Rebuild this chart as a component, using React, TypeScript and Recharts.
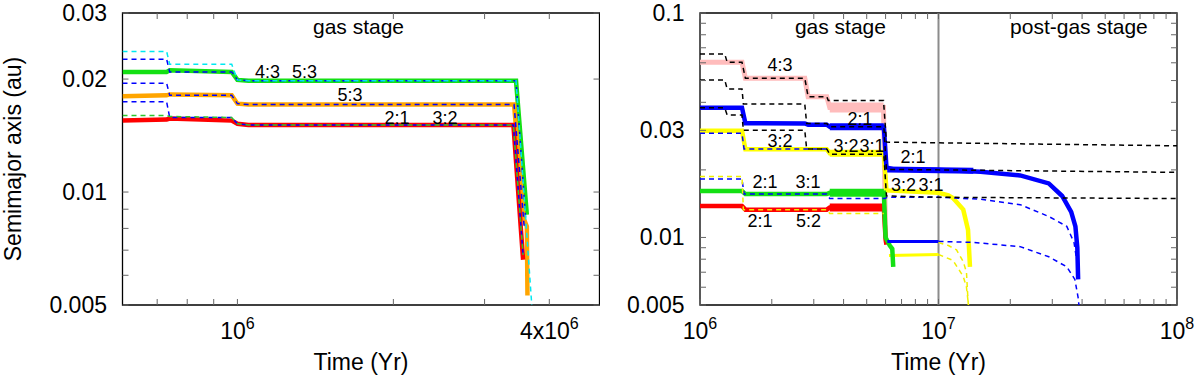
import React from "react";
import {
  LineChart,
  Line,
  XAxis,
  YAxis,
  ReferenceLine,
  ReferenceArea,
  ReferenceDot,
} from "recharts";

type Pt = [number, number];

const FONT = '"Liberation Sans", Arial, Helvetica, sans-serif';

// ---------- left panel (gas stage only) ----------
const leftXTicks = [7e5, 8e5, 9e5, 1e6, 2e6, 3e6, 4e6];
const leftXLabels: Record<string, string[]> = {
  "1000000": ["10", "6"],
  "4000000": ["4x10", "6"],
};
const leftYTicks = [0.005, 0.006, 0.007, 0.008, 0.009, 0.01, 0.02, 0.03];
const leftYLabels = ["0.005", "0.01", "0.02", "0.03"];

// solid (semimajor axis of each planet)
const leftGreen: Pt[] = [[6e5, 0.0209], [7.3e5, 0.0209], [7.4e5, 0.0211], [9.75e5, 0.0209], [1.0e6, 0.0199], [1.05e6, 0.0198], [3.45e6, 0.0198], [3.62e6, 0.0087]];
const leftOrange: Pt[] = [[6e5, 0.018], [7.3e5, 0.0181], [7.4e5, 0.0182], [9.75e5, 0.0181], [1.0e6, 0.0172], [1.05e6, 0.0171], [3.42e6, 0.0171], [3.57e6, 0.0085], [3.62e6, 0.0081], [3.63e6, 0.0053]];
const leftRed: Pt[] = [[6e5, 0.0155], [7.3e5, 0.0156], [7.4e5, 0.0157], [9.75e5, 0.0155], [1.0e6, 0.0152], [1.05e6, 0.0151], [3.41e6, 0.0151], [3.56e6, 0.0066]];
// dashed companions
const leftCyan: Pt[] = [[6e5, 0.0237], [7.3e5, 0.0237], [7.4e5, 0.0219], [9.75e5, 0.0219], [1.0e6, 0.0199], [1.05e6, 0.0198], [3.45e6, 0.0198], [3.7e6, 0.005]];
const leftBlue1: Pt[] = [[6e5, 0.0226], [7.3e5, 0.0226], [7.4e5, 0.0209], [9.75e5, 0.0209], [1.0e6, 0.0199], [1.05e6, 0.0198], [3.45e6, 0.0198], [3.6e6, 0.0085]];
const leftBlue2: Pt[] = [[6e5, 0.0195], [7.3e5, 0.0195], [7.4e5, 0.0181], [9.75e5, 0.0181], [1.0e6, 0.0172], [1.05e6, 0.0171], [3.42e6, 0.0171], [3.58e6, 0.008]];
const leftBlue3: Pt[] = [[6e5, 0.0174], [7.3e5, 0.0174], [7.4e5, 0.0158], [9.75e5, 0.0158], [1.0e6, 0.0152], [1.05e6, 0.0151], [3.41e6, 0.0151], [3.56e6, 0.0068]];
const leftGreenDash: Pt[] = [[6e5, 0.016], [7.3e5, 0.016], [7.4e5, 0.0159], [9.75e5, 0.0158], [1.0e6, 0.0152], [1.05e6, 0.0151], [3.41e6, 0.0151], [3.56e6, 0.0068]];

const leftNotes: [string, number, number][] = [
  ["gas stage", 1.713e6, 0.02645],
  ["4:3", 1.143e6, 0.02013],
  ["5:3", 1.347e6, 0.02013],
  ["5:3", 1.649e6, 0.01753],
  ["2:1", 2.032e6, 0.01518],
  ["3:2", 2.515e6, 0.01518],
];

// ---------- right panel (gas + post-gas) ----------
const rightXTicks = [
  1e6, 2e6, 3e6, 4e6, 5e6, 6e6, 7e6, 8e6, 9e6,
  1e7, 2e7, 3e7, 4e7, 5e7, 6e7, 7e7, 8e7, 9e7, 1e8,
];
const rightXLabels: Record<string, string[]> = {
  "1000000": ["10", "6"],
  "10000000": ["10", "7"],
  "100000000": ["10", "8"],
};
const rightYTicks = [
  0.005, 0.006, 0.007, 0.008, 0.009, 0.01, 0.02, 0.03, 0.04, 0.05, 0.06, 0.07, 0.08, 0.09, 0.1,
];
const rightYLabels = ["0.005", "0.01", "0.03", "0.1"];

const rightPink: Pt[] = [[1e6, 0.0603], [1.5e6, 0.0603], [1.55e6, 0.0512], [2.75e6, 0.0512], [2.84e6, 0.0424], [3.4e6, 0.0424], [3.5e6, 0.0379], [5.88e6, 0.0379], [6.0e6, 0.01]];
const rightPinkNoise: Pt[] = [[3.5e6, 0.0379], [5.88e6, 0.0379]];
const rightYellow: Pt[] = [[1e6, 0.0299], [1.5e6, 0.0299], [1.55e6, 0.0247], [3.4e6, 0.0247], [3.5e6, 0.0237], [5.9e6, 0.0237], [6.05e6, 0.0162], [1e7, 0.0158], [1.1e7, 0.0154], [1.15e7, 0.015], [1.27e7, 0.0133], [1.33e7, 0.0108], [1.355e7, 0.0074]];
const rightYellowNoise: Pt[] = [[3.5e6, 0.0237], [5.9e6, 0.0237]];
const rightRed: Pt[] = [[1e6, 0.0138], [1.5e6, 0.0138], [1.55e6, 0.0133], [3.4e6, 0.0133], [3.5e6, 0.0136], [5.9e6, 0.0136], [6.0e6, 0.0098], [6.05e6, 0.0093]];
const rightRedNoise: Pt[] = [[3.5e6, 0.0136], [5.9e6, 0.0136]];
const rightGreen: Pt[] = [[1e6, 0.0161], [1.5e6, 0.0161], [1.55e6, 0.0156], [3.4e6, 0.0156], [3.5e6, 0.0158], [5.9e6, 0.0158], [6.0e6, 0.01], [6.25e6, 0.0092], [6.4e6, 0.0089], [6.46e6, 0.0074]];
const rightGreenNoise: Pt[] = [[3.5e6, 0.0158], [5.9e6, 0.0158]];
const rightBlue: Pt[] = [[1e6, 0.0378], [1.5e6, 0.0378], [1.55e6, 0.0323], [2.75e6, 0.0322], [2.84e6, 0.0318], [3.4e6, 0.0318], [3.5e6, 0.0311], [5.9e6, 0.0311], [6.05e6, 0.0205], [6.5e6, 0.0201], [1e7, 0.02], [1.5e7, 0.0196], [2.2e7, 0.0189], [2.9e7, 0.0174], [3.3e7, 0.0153], [3.6e7, 0.013], [3.75e7, 0.0112], [3.82e7, 0.009], [3.85e7, 0.0065]];
const rightBlueNoise: Pt[] = [[3.5e6, 0.0311], [5.9e6, 0.0311]];
const rightBluePostNoise: Pt[] = [[6.1e6, 0.0201], [1.4e7, 0.0198]];
const rightBlueLow: Pt[] = [[6.1e6, 0.0096], [1e7, 0.0096]];
const rightYellowLow: Pt[] = [[6.2e6, 0.0083], [1e7, 0.0084]];

const rightBlueDashTop: Pt[] = [[1e6, 0.0291], [1.5e6, 0.0291], [1.53e6, 0.0248], [3.4e6, 0.0248]];
const rightBlueDashA: Pt[] = [[1e6, 0.0182], [1.5e6, 0.0182], [1.53e6, 0.0156], [3.4e6, 0.0156], [3.5e6, 0.0149], [5.95e6, 0.0149], [6.1e6, 0.0151], [1e7, 0.0151], [1.5e7, 0.0148], [2.2e7, 0.014], [2.9e7, 0.0124], [3.45e7, 0.0112], [3.7e7, 0.0095], [3.8e7, 0.0079]];
const rightBlueDashB: Pt[] = [[1e7, 0.0096], [1.4e7, 0.0095], [2.2e7, 0.0091], [2.9e7, 0.0082], [3.45e7, 0.0074], [3.73e7, 0.0065], [3.85e7, 0.0054], [3.88e7, 0.005]];
const rightYellowDashA: Pt[] = [[1e6, 0.0187], [1.5e6, 0.0187], [1.52e6, 0.0133], [3.4e6, 0.0133], [3.5e6, 0.0128], [5.9e6, 0.0128]];
const rightYellowDashB: Pt[] = [[1e7, 0.0095], [1.1e7, 0.0092], [1.19e7, 0.0088], [1.27e7, 0.0078], [1.31e7, 0.007], [1.33e7, 0.0052], [1.335e7, 0.005]];
const rightYellowDashC: Pt[] = [[1e7, 0.0084], [1.15e7, 0.0079], [1.27e7, 0.0067], [1.31e7, 0.006], [1.33e7, 0.0052], [1.335e7, 0.005]];

const rightBlack1: Pt[] = [[1e6, 0.0657], [1.27e6, 0.0657], [1.3e6, 0.0603], [1.5e6, 0.0603], [1.55e6, 0.0512], [2.75e6, 0.0512], [2.84e6, 0.0424], [3.4e6, 0.0424], [3.45e6, 0.0407], [5.88e6, 0.0407], [6.05e6, 0.0266], [1e7, 0.0264], [1e8, 0.0256]];
const rightBlack2: Pt[] = [[1e6, 0.0503], [1.27e6, 0.0503], [1.3e6, 0.0459], [1.5e6, 0.0459], [1.52e6, 0.0393], [2.75e6, 0.0393], [2.8e6, 0.0322], [3.4e6, 0.0322], [3.5e6, 0.0311], [5.9e6, 0.0311], [6.05e6, 0.0201], [1e7, 0.02], [1e8, 0.0195]];
const rightBlack3: Pt[] = [[1e6, 0.0378], [1.27e6, 0.0378], [1.3e6, 0.0351], [1.5e6, 0.0351], [1.52e6, 0.03], [2.75e6, 0.03], [2.8e6, 0.0248], [3.4e6, 0.0248], [3.5e6, 0.0235], [5.9e6, 0.0235], [6.05e6, 0.0153], [1e7, 0.0151], [1e8, 0.0149]];

const rightNotes: [string, number, number][] = [
  ["gas stage", 3.88e6, 0.081],
  ["post-gas stage", 3.88e7, 0.081],
  ["4:3", 2.165e6, 0.05534],
  ["2:1", 4.69e6, 0.0317],
  ["3:2", 2.165e6, 0.02521],
  ["3:2", 4.095e6, 0.0241],
  ["3:1", 5.26e6, 0.0241],
  ["2:1", 7.82e6, 0.0214],
  ["3:2", 7.13e6, 0.0161],
  ["3:1", 9.3e6, 0.0161],
  ["2:1", 1.873e6, 0.01656],
  ["3:1", 2.837e6, 0.01656],
  ["2:1", 1.785e6, 0.01117],
  ["5:2", 2.852e6, 0.01117],
];

const GREEN = "#14e014";
const ORANGE = "#ffa500";
const RED = "#ff0000";
const BLUE = "#0000ff";
const CYAN = "#00e8f0";
const PINK = "#ffbcbc";
const YELLOW = "#ffff00";
const DASH = "5 4";

// plot box (inside each 600x381 chart)
const TOP = 13;
const BOTTOM = 305;

const pts = (arr: Pt[]) => arr.map(([t, a]) => ({ t, a }));

function series(key: string, arr: Pt[], color: string, width: number, dashed = false) {
  return (
    <Line
      key={key}
      name={key}
      data={pts(arr)}
      dataKey="a"
      type="linear"
      stroke={color}
      strokeWidth={width}
      strokeDasharray={dashed ? DASH : undefined}
      dot={false}
      activeDot={false}
      isAnimationActive={false}
    />
  );
}

function xTick(labels: Record<string, string[]>) {
  return (props: any) => {
    const { x, payload } = props;
    const lab = labels[String(payload.value)];
    return (
      <g>
        <line x1={x} x2={x} y1={BOTTOM} y2={BOTTOM - 6} stroke="#666" />
        <line x1={x} x2={x} y1={TOP} y2={TOP + 6} stroke="#666" />
        {lab && (
          <text x={x} y={BOTTOM + 33.5} textAnchor="middle" fontSize={23} fill="#000" fontFamily={FONT}>
            {lab[0]}
            <tspan dy={-10} fontSize={16}>
              {lab[1]}
            </tspan>
          </text>
        )}
      </g>
    );
  };
}

function yTick(labels: string[], left: number, right: number) {
  return (props: any) => {
    const { y, payload } = props;
    const lab = labels.includes(String(payload.value)) ? String(payload.value) : null;
    return (
      <g>
        <line x1={left} x2={left + 6} y1={y} y2={y} stroke="#666" />
        <line x1={right - 6} x2={right} y1={y} y2={y} stroke="#666" />
        {lab && (
          <text x={left - 15.5} y={y + 8} textAnchor="end" fontSize={23} fill="#000" fontFamily={FONT}>
            {lab}
          </text>
        )}
      </g>
    );
  };
}

function notes(list: [string, number, number][]) {
  return list.map(([txt, t, a], i) => (
    <ReferenceDot
      key={"n" + i}
      x={t}
      y={a}
      r={1}
      ifOverflow="visible"
      shape={(p: any) => (
        <text
          x={p.cx}
          y={p.cy}
          textAnchor="middle"
          fontSize={txt.includes("stage") ? 21 : 18}
          fill="#000"
          fontFamily={FONT}
        >
          {txt}
        </text>
      )}
    />
  ));
}

const LeftPanel = () => (
  <LineChart width={600} height={381} margin={{ top: TOP, right: 0.5, bottom: 0, left: 0 }}>
    <XAxis
      dataKey="t"
      type="number"
      scale="log"
      domain={[6e5, 5e6]}
      allowDataOverflow
      ticks={leftXTicks}
      interval={0}
      height={76}
      axisLine={false}
      tickLine={false}
      tickSize={0}
      tickMargin={0}
      tick={xTick(leftXLabels)}
    />
    <YAxis
      type="number"
      scale="log"
      domain={[0.005, 0.03]}
      allowDataOverflow
      ticks={leftYTicks}
      interval={0}
      width={122.5}
      axisLine={false}
      tickLine={false}
      tickSize={0}
      tickMargin={0}
      tick={yTick(leftYLabels, 122.5, 599.5)}
    />
    <ReferenceArea x1={6e5} x2={5e6} y1={0.005} y2={0.03} fill="none" stroke="#000" strokeWidth={1.3} ifOverflow="visible" />
    {series("green", leftGreen, GREEN, 4.5)}
    {series("orange", leftOrange, ORANGE, 4.5)}
    {series("red", leftRed, RED, 4.5)}
    {series("blue1", leftBlue1, BLUE, 1.5, true)}
    {series("blue2", leftBlue2, BLUE, 1.5, true)}
    {series("blue3", leftBlue3, BLUE, 1.5, true)}
    {series("greenDash", leftGreenDash, "#2ec42e", 1.5, true)}
    {series("cyan", leftCyan, CYAN, 1.5, true)}
    {notes(leftNotes)}
  </LineChart>
);

const RightPanel = () => (
  <LineChart width={600} height={381} margin={{ top: TOP, right: 23, bottom: 0, left: 0 }}>
    <XAxis
      dataKey="t"
      type="number"
      scale="log"
      domain={[1e6, 1e8]}
      allowDataOverflow
      ticks={rightXTicks}
      interval={0}
      height={76}
      axisLine={false}
      tickLine={false}
      tickSize={0}
      tickMargin={0}
      tick={xTick(rightXLabels)}
    />
    <YAxis
      type="number"
      scale="log"
      domain={[0.005, 0.1]}
      allowDataOverflow
      ticks={rightYTicks}
      interval={0}
      width={100}
      axisLine={false}
      tickLine={false}
      tickSize={0}
      tickMargin={0}
      tick={yTick(rightYLabels, 100, 577)}
    />
    <ReferenceArea x1={1e6} x2={1e8} y1={0.005} y2={0.1} fill="none" stroke="#000" strokeWidth={1.3} ifOverflow="visible" />
    <ReferenceLine x={1e7} stroke="#8c8c8c" strokeWidth={2} />
    {series("pink", rightPink, PINK, 5)}
    {series("pinkNoise", rightPinkNoise, PINK, 10)}
    {series("yellow", rightYellow, YELLOW, 4.5)}
    {series("yellowNoise", rightYellowNoise, YELLOW, 7)}
    {series("yellowLow", rightYellowLow, YELLOW, 3)}
    {series("red", rightRed, RED, 4.5)}
    {series("redNoise", rightRedNoise, RED, 8)}
    {series("green", rightGreen, GREEN, 4.5)}
    {series("greenNoise", rightGreenNoise, GREEN, 8)}
    {series("blue", rightBlue, BLUE, 4.5)}
    {series("blueNoise", rightBlueNoise, BLUE, 7)}
    {series("bluePostNoise", rightBluePostNoise, BLUE, 6)}
    {series("blueLow", rightBlueLow, BLUE, 3)}
    {series("blueDashTop", rightBlueDashTop, BLUE, 1.5, true)}
    {series("blueDashA", rightBlueDashA, BLUE, 1.5, true)}
    {series("blueDashB", rightBlueDashB, BLUE, 1.5, true)}
    {series("yellowDashA", rightYellowDashA, "#f0f000", 1.5, true)}
    {series("yellowDashB", rightYellowDashB, "#f0f000", 1.5, true)}
    {series("yellowDashC", rightYellowDashC, "#f0f000", 1.5, true)}
    {series("black1", rightBlack1, "#000", 1.5, true)}
    {series("black2", rightBlack2, "#000", 1.5, true)}
    {series("black3", rightBlack3, "#000", 1.5, true)}
    {notes(rightNotes)}
  </LineChart>
);

export default function App() {
  return (
    <div
      style={{
        position: "absolute",
        left: 0,
        top: 0,
        width: 1200,
        height: 381,
        background: "#fff",
        fontFamily: FONT,
      }}
    >
      <div style={{ position: "absolute", left: 0, top: 0 }}>
        <LeftPanel />
      </div>
      <div style={{ position: "absolute", left: 600, top: 0 }}>
        <RightPanel />
      </div>
      <svg
        width={1200}
        height={381}
        style={{ position: "absolute", left: 0, top: 0, pointerEvents: "none" }}
      >
        <text
          transform="translate(20.5,159) rotate(-90)"
          textAnchor="middle"
          fontSize={23}
          fontFamily={FONT}
          fill="#000"
        >
          Semimajor axis (au)
        </text>
        <text x={361} y={370} textAnchor="middle" fontSize={23} fontFamily={FONT} fill="#000">
          Time (Yr)
        </text>
        <text x={938.5} y={370} textAnchor="middle" fontSize={23} fontFamily={FONT} fill="#000">
          Time (Yr)
        </text>
      </svg>
    </div>
  );
}
